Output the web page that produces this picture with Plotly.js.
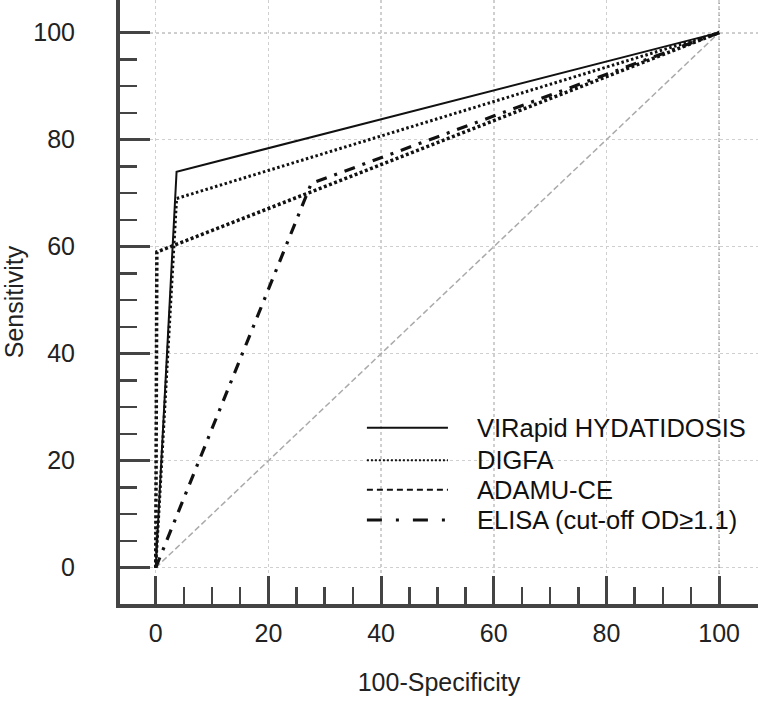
<!DOCTYPE html>
<html>
<head>
<meta charset="utf-8">
<script src="https://cdn.plot.ly/plotly-3.0.1.min.js"></script>
<style>
  body { margin: 0; background: #fff; }
  #roc { width: 758px; height: 701px; }
</style>
</head>
<body>
<div id="roc"></div>
<script>
// ROC points (x = 100-Specificity, y = Sensitivity)
const seriesNames = ['VIRapid HYDATIDOSIS', 'DIGFA', 'ADAMU-CE', 'ELISA (cut-off OD\u22651.1)']
const virapidX = [0, 3.7, 100]
const virapidY = [0, 74, 100]
const digfaX = [0, 3.7, 100]
const digfaY = [0, 69, 100]
const adamuX = [0, 0.2, 100]
const adamuY = [0, 59, 100]
const elisaX = [0, 27.6, 100]
const elisaY = [0, 71.8, 100]
const diagX = [0, 100]
const diagY = [0, 100]
const tickValues = [0, 20, 40, 60, 80, 100]

const FONT = 'Arial, "Liberation Sans", sans-serif'
const AXIS = '#444'

// line style for each series, used for both the curve and its legend key
const styles = [
  {plot: {color: '#111', width: 2, dash: 'solid'}, key: {color: '#111', width: 2, dash: 'solid'}},
  {plot: {color: '#111', width: 3, dash: '2.5px,2.5px'}, key: {color: '#111', width: 2, dash: '2px,2px'}},
  {plot: {color: '#111', width: 3.5, dash: '3px,2.5px'}, key: {color: '#111', width: 2, dash: '6px,4px'}},
  {plot: {color: '#111', width: 3.2, dash: '11px,8px,3px,8px'}, key: {color: '#111', width: 3, dash: '15px,14px,3px,14px'}},
]

const curves = [[virapidX, virapidY], [digfaX, digfaY], [adamuX, adamuY], [elisaX, elisaY]]

let traces = [{
  x: diagX, y: diagY, mode: 'lines', hoverinfo: 'skip',
  line: {color: '#aaa', width: 1.5, dash: '6px,3px'},
}]
curves.forEach(([x, y], i) => {
  traces.push({x, y, name: seriesNames[i], mode: 'lines', line: styles[i].plot})
})

// hand drawn legend (keys are longer than plotly's built-in ones)
const legendRows = [0.292, 0.238, 0.189, 0.139]
let shapes = []
let annotations = []
seriesNames.forEach((name, i) => {
  shapes.push({
    type: 'line', xref: 'paper', yref: 'paper',
    x0: 0.387, x1: 0.514, y0: legendRows[i], y1: legendRows[i],
    line: styles[i].key,
  })
  annotations.push({
    xref: 'paper', yref: 'paper', x: 0.556, y: legendRows[i],
    xanchor: 'left', yanchor: 'middle', showarrow: false,
    text: name, font: {family: FONT, size: 25.5, color: '#111'},
  })
})

// darker dotted lines at 100
const maxTick = tickValues[tickValues.length - 1]
shapes.push({type: 'line', layer: 'below', xref: 'x', yref: 'paper', x0: maxTick, x1: maxTick, y0: 0, y1: 1,
  line: {color: '#999', width: 1.5, dash: 'dot'}})
shapes.push({type: 'line', layer: 'below', xref: 'paper', yref: 'y', x0: 0, x1: 1, y0: maxTick, y1: maxTick,
  line: {color: '#999', width: 1.5, dash: 'dot'}})

const minorVals = []
for (let v = 5; v < 100; v += 5) {
  if (v % 20 !== 0) minorVals.push(v)
}

function axis(title, len, standoff) {
  return {
    tickmode: 'array',
    tickvals: tickValues,
    ticktext: tickValues.map(String),
    ticks: 'inside',
    ticklen: len,
    tickwidth: 3,
    tickcolor: AXIS,
    showline: true,
    linewidth: 4,
    linecolor: AXIS,
    showgrid: true,
    gridcolor: '#cfcfcf',
    gridwidth: 1.5,
    griddash: 'dot',
    zeroline: false,
    tickfont: {family: FONT, size: 25, color: '#222'},
    minor: {tickmode: 'array', tickvals: minorVals, ticks: 'inside', ticklen: 17, tickwidth: 2.5, tickcolor: AXIS, showgrid: false},
    title: {text: title, font: {family: FONT, size: 25, color: '#222'}, standoff},
    fixedrange: true,
  }
}

let xaxis = axis('100-Specificity', 28, 28)
xaxis.range = [-6.34, 106.9]
xaxis.ticklabelstandoff = 4
let yaxis = axis('Sensitivity', 30, 16)
yaxis.range = [-6.78, 106.1]
yaxis.ticklabelstandoff = 36

const layout = {
  width: 758,
  height: 701,
  margin: {l: 120, r: 0, t: 0, b: 97},
  paper_bgcolor: '#fff',
  plot_bgcolor: '#fff',
  showlegend: false,
  xaxis,
  yaxis,
  shapes,
  annotations,
}

Plotly.newPlot('roc', traces, layout, {displayModeBar: false, staticPlot: true})
</script>
</body>
</html>
